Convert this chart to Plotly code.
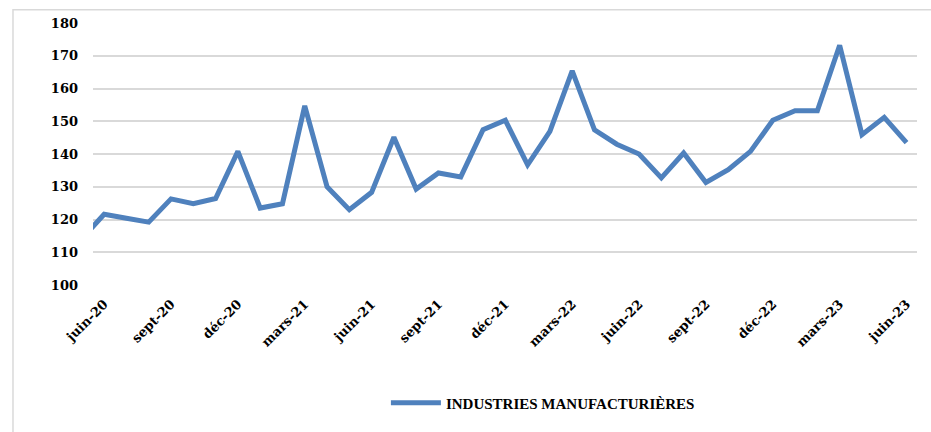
import plotly.graph_objects as go

# Monthly index, manufacturing industries (May 2020 – June 2023)
months = [
    "mai-20", "juin-20", "juil-20", "août-20", "sept-20", "oct-20", "nov-20", "déc-20",
    "janv-21", "févr-21", "mars-21", "avr-21", "mai-21", "juin-21", "juil-21", "août-21",
    "sept-21", "oct-21", "nov-21", "déc-21", "janv-22", "févr-22", "mars-22", "avr-22",
    "mai-22", "juin-22", "juil-22", "août-22", "sept-22", "oct-22", "nov-22", "déc-22",
    "janv-23", "févr-23", "mars-23", "avr-23", "mai-23", "juin-23",
]
industries_manufacturieres = [
    114.1, 121.6, 120.4, 119.2, 126.3, 124.8, 126.4, 140.8,
    123.5, 124.8, 154.7, 130.0, 123.0, 128.3, 145.1, 129.3,
    134.2, 133.0, 147.4, 150.3, 136.7, 146.9, 165.4, 147.4,
    143.0, 140.0, 132.7, 140.3, 131.3, 135.2, 140.8, 150.3,
    153.2, 153.2, 173.2, 145.9, 151.2, 143.5,
]
tick_months = [
    "juin-20", "sept-20", "déc-20", "mars-21", "juin-21", "sept-21", "déc-21",
    "mars-22", "juin-22", "sept-22", "déc-22", "mars-23", "juin-23",
]
y_ticks = [100, 110, 120, 130, 140, 150, 160, 170, 180]

TICK_FONT = "DejaVu Serif"
LEGEND_FONT = "Liberation Serif"
BLUE = "#4F81BD"
GRID = "#D9D9D9"

fig = go.Figure()
fig.add_trace(go.Scatter(
    x=months,
    y=industries_manufacturieres,
    mode="lines",
    name="INDUSTRIES MANUFACTURIÈRES",
    line=dict(color=BLUE, width=5),
))

fig.update_layout(
    width=931,
    height=432,
    margin=dict(l=93, r=14, t=23, b=147),
    paper_bgcolor="white",
    plot_bgcolor="white",
    font=dict(family=TICK_FONT, color="#000000"),
    showlegend=True,
    legend=dict(
        orientation="h",
        x=0.546, xanchor="center",
        y=-0.45, yanchor="middle",
        font=dict(family=LEGEND_FONT, size=15, weight="bold", color="#000000"),
        itemwidth=50,
    ),
    xaxis=dict(
        type="category",
        range=[0.5, 37.47],
        tickmode="array",
        tickvals=tick_months,
        ticktext=tick_months,
        tickangle=-45,
        tickfont=dict(family=TICK_FONT, size=13, weight="bold", color="#000000"),
        ticklabelstandoff=8,
        showgrid=False,
        showline=False,
        zeroline=False,
        ticks="",
    ),
    yaxis=dict(
        range=[100, 180],
        tickmode="array",
        tickvals=y_ticks,
        tickfont=dict(family=TICK_FONT, size=13, weight="bold", color="#000000"),
        showgrid=True,
        gridcolor=GRID,
        gridwidth=1.5,
        zeroline=False,
        showline=False,
        ticks="",
        ticklabelstandoff=14,
    ),
    shapes=[
        dict(
            type="rect", xref="paper", yref="paper",
            x0=-0.0971, x1=1.2, y0=-1.0, y1=1.0508,
            line=dict(color=GRID, width=1.5),
            fillcolor="rgba(0,0,0,0)",
            layer="below",
        )
    ],
)

fig.write_html("out.html")
